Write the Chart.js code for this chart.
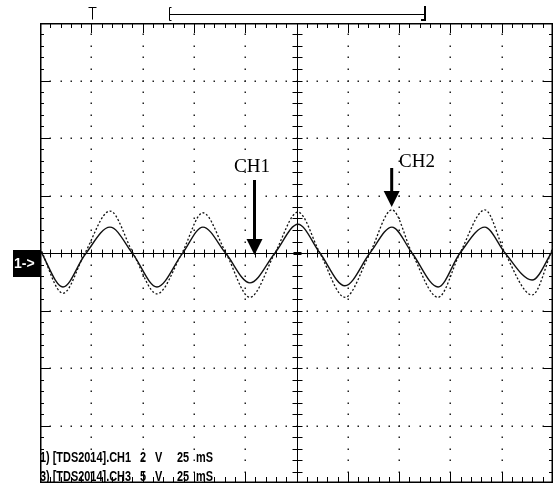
<!DOCTYPE html>
<html>
<head>
<meta charset="utf-8">
<script src="https://cdn.jsdelivr.net/npm/chart.js@4"></script>
<style>
  body { margin: 0; background: #fff; }
</style>
</head>
<body>
<canvas id="scope" width="554" height="483"></canvas>
<script>
// time in ms (25 ms/div), values in screen divisions (8 div high)
const timeMs = [0, 11.2, 21.9, 34.1, 45.3, 57.0, 69.2, 79.4, 90.6, 102.3, 114.5, 125.7,
                136.4, 148.6, 160.8, 171.5, 181.3, 194.0, 204.7, 216.8, 226.6, 239.8, 250];
const ch1Div = [0.05, -0.59, -0.03, 0.45, -0.02, -0.59, -0.02, 0.45, -0.01, -0.52, 0, 0.50,
                0, -0.57, 0, 0.45, 0, -0.59, 0, 0.45, 0, -0.47, 0.05];
const ch2Div = [0.09, -0.70, 0, 0.73, 0, -0.71, 0, 0.70, 0, -0.77, 0, 0.71,
                0, -0.77, 0, 0.75, 0, -0.77, 0, 0.75, 0, -0.73, 0.10];
const infoNames = ['1) [TDS2014].CH1', '3) [TDS2014].CH3'];
const infoVolts = ['2', '5'];
const infoTime = ['25', '25'];

const toPoints = vals => timeMs.map((t, i) => ({ x: t, y: vals[i] }));

const graticule = {
  id: 'graticule',
  beforeDatasetsDraw(chart) {
    const { ctx, chartArea: a, scales: { x, y } } = chart;
    ctx.save();
    ctx.fillStyle = '#222';
    // dotted grid lines
    for (let i = 1; i < 10; i++) {
      if (i === 5) continue;
      const px = Math.round(x.getPixelForValue(i * 25));
      for (let k = 1; k < 40; k++) {
        const py = Math.round(y.getPixelForValue(-4 + k * 0.2));
        ctx.fillRect(px - 0.5, py - 0.5, 1.5, 1.5);
      }
    }
    for (let j = -3; j <= 3; j++) {
      if (j === 0) continue;
      const py = Math.round(y.getPixelForValue(j));
      for (let k = 1; k < 50; k++) {
        const px = Math.round(x.getPixelForValue(k * 5));
        ctx.fillRect(px - 0.5, py - 0.5, 1.5, 1.5);
      }
    }
    ctx.strokeStyle = '#000';
    ctx.lineWidth = 1;
    const cx = Math.round(x.getPixelForValue(125)) + 0.5;
    const cy = Math.round(y.getPixelForValue(0)) + 0.5;
    ctx.beginPath();
    ctx.moveTo(a.left, cy); ctx.lineTo(a.right, cy);
    ctx.moveTo(cx, a.top); ctx.lineTo(cx, a.bottom);
    // ticks on center lines and borders
    for (let k = 1; k < 50; k++) {
      const px = Math.round(x.getPixelForValue(k * 5)) + 0.5;
      const major = k % 5 === 0;
      ctx.moveTo(px, cy - 4); ctx.lineTo(px, cy + 4);
      ctx.moveTo(px, a.top); ctx.lineTo(px, a.top + (major ? 10 : 5));
      ctx.moveTo(px, a.bottom - 1); ctx.lineTo(px, a.bottom - 1 - (major ? 10 : 5));
    }
    for (let k = 1; k < 40; k++) {
      const py = Math.round(y.getPixelForValue(-4 + k * 0.2)) + 0.5;
      const major = k % 5 === 0;
      ctx.moveTo(cx - 5, py); ctx.lineTo(cx + 5, py);
      ctx.moveTo(a.left, py); ctx.lineTo(a.left + (major ? 10 : 4), py);
      ctx.moveTo(a.right, py); ctx.lineTo(a.right - (major ? 10 : 4), py);
    }
    ctx.stroke();
    ctx.lineWidth = 1.5;
    ctx.strokeRect(a.left + 0.75, a.top + 0.75, a.right - a.left - 1.5, a.bottom - a.top - 1.5);
    ctx.fillStyle = '#000';
    ctx.fillRect(cx - 4, cy - 1.5, 8, 3);
    ctx.restore();
  },
  afterDraw(chart) {
    const { ctx } = chart;
    ctx.save();
    ctx.strokeStyle = '#000';
    ctx.fillStyle = '#000';
    // trigger marker and time bracket
    ctx.lineWidth = 1;
    ctx.beginPath();
    ctx.moveTo(88.5, 7.5); ctx.lineTo(96.5, 7.5);
    ctx.moveTo(92.5, 7.5); ctx.lineTo(92.5, 19.5);
    ctx.moveTo(171.5, 7.5); ctx.lineTo(169.5, 7.5); ctx.lineTo(169.5, 20.5); ctx.lineTo(171.5, 20.5);
    ctx.moveTo(169.5, 14.5); ctx.lineTo(425, 14.5);
    ctx.stroke();
    ctx.fillRect(424, 6, 2, 15);
    ctx.fillRect(421, 19, 4, 2);
    // ground marker
    ctx.fillRect(13, 250, 28, 27);
    ctx.fillStyle = '#fff';
    ctx.font = 'bold 14px "Liberation Sans", sans-serif';
    ctx.textBaseline = 'middle';
    ctx.fillText('1->', 14, 264);
    // channel labels and arrows
    ctx.fillStyle = '#000';
    ctx.font = '19px "Liberation Serif", serif';
    ctx.textBaseline = 'alphabetic';
    ctx.fillText('CH1', 234, 172);
    ctx.fillText('CH2', 399, 167);
    const arrow = (x, y0, y1, hw, hh) => {
      ctx.fillRect(x - 1.5, y0, 3, y1 - y0 - hh + 1);
      ctx.beginPath();
      ctx.moveTo(x - hw, y1 - hh); ctx.lineTo(x + hw, y1 - hh); ctx.lineTo(x, y1);
      ctx.closePath(); ctx.fill();
    };
    arrow(254.5, 180, 255, 8, 16);
    arrow(391.7, 168, 207, 8, 16);
    // channel info text, condensed
    ctx.font = 'bold 14.5px "Liberation Sans", sans-serif';
    const sx = 91 / ctx.measureText(infoNames[0]).width;
    const base = [462, 481];
    const put = (s, x, yb) => {
      ctx.save();
      ctx.translate(x, yb);
      ctx.scale(sx, 1);
      ctx.fillText(s, 0, 0);
      ctx.restore();
    };
    for (let i = 0; i < 2; i++) {
      put(infoNames[i], 40, base[i]);
      put(infoVolts[i], 140, base[i]);
      put('V', 155, base[i]);
      put(infoTime[i], 177, base[i]);
      put('mS', 196, base[i]);
    }
    ctx.restore();
  }
};

new Chart(document.getElementById('scope'), {
  type: 'line',
  data: {
    datasets: [
      {
        label: 'CH1',
        data: toPoints(ch1Div),
        borderColor: '#111',
        borderWidth: 1.4,
        pointRadius: 0,
        cubicInterpolationMode: 'monotone'
      },
      {
        label: 'CH2',
        data: toPoints(ch2Div),
        borderColor: '#111',
        borderWidth: 1.3,
        borderDash: [2, 2],
        pointRadius: 0,
        cubicInterpolationMode: 'monotone'
      }
    ]
  },
  options: {
    responsive: false,
    animation: false,
    layout: { padding: { left: 40, right: 1, top: 23, bottom: 0 } },
    plugins: { legend: { display: false }, tooltip: { enabled: false } },
    scales: {
      x: { type: 'linear', min: 0, max: 250, display: false },
      y: { min: -4, max: 4, display: false }
    }
  },
  plugins: [graticule]
});
</script>
</body>
</html>
